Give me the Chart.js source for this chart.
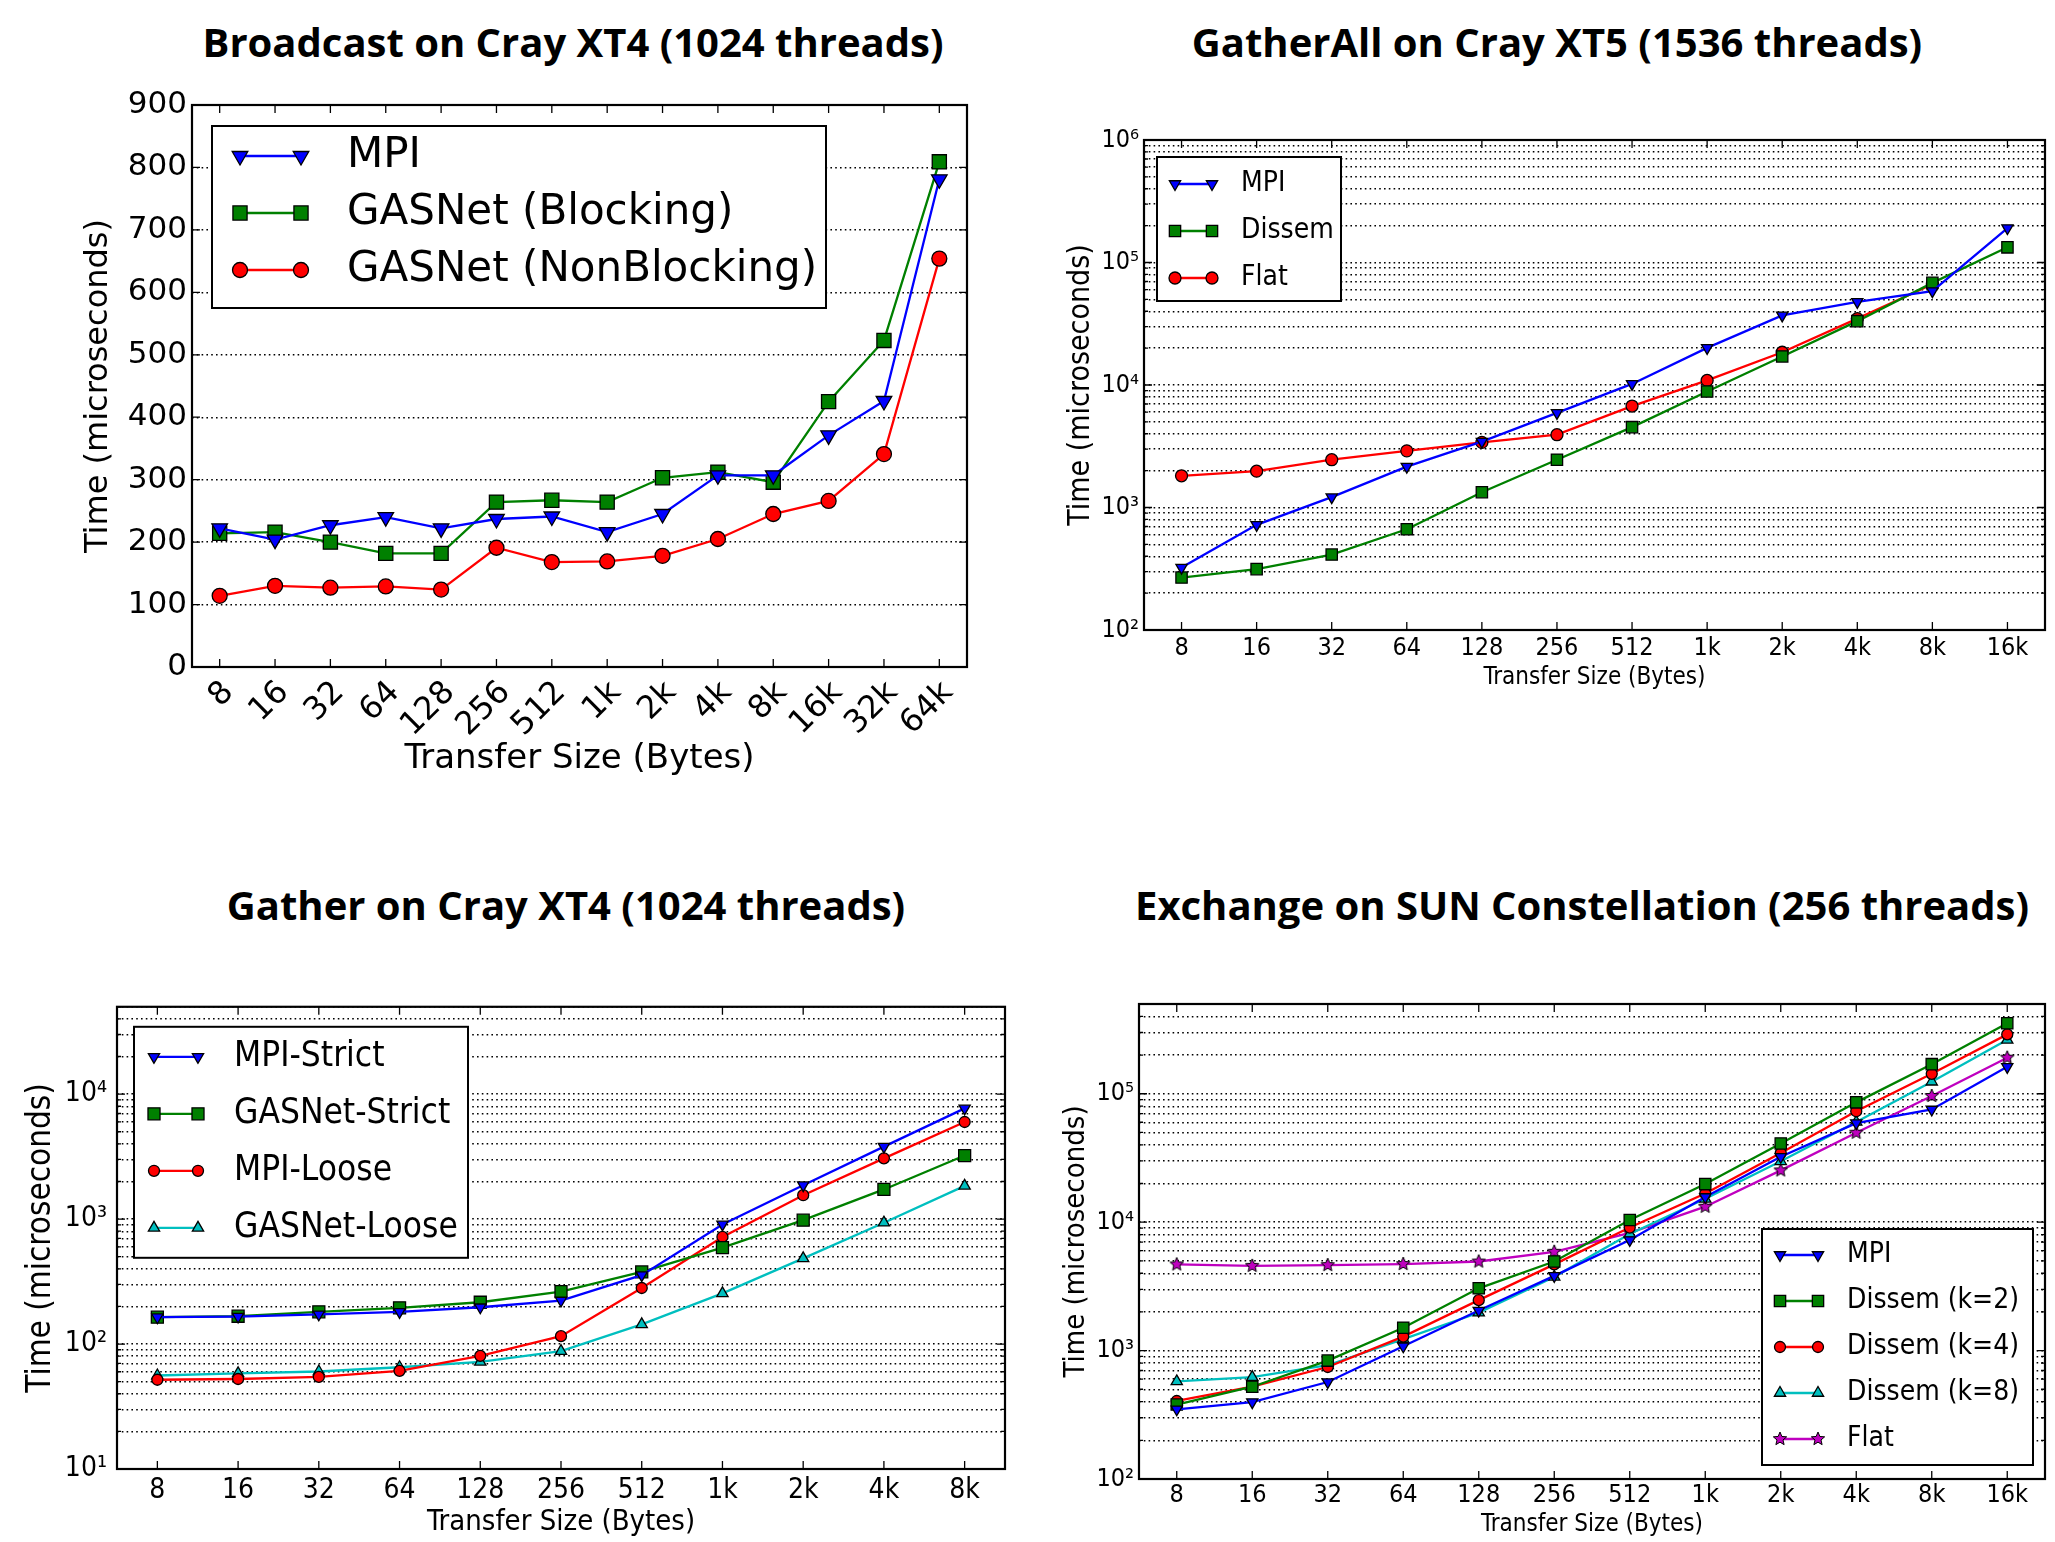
<!DOCTYPE html>
<html>
<head>
<meta charset="utf-8">
<script src="https://cdn.jsdelivr.net/npm/chart.js@4.4.1/dist/chart.umd.min.js"></script>
<style>
body { margin: 0; background: #fff; }
#page { position: relative; width: 2055px; height: 1542px; overflow: hidden; background: #fff; }
canvas { position: absolute; }
.ttl { position: absolute; font-family: 'Open Sans', sans-serif; font-weight: 700; font-size: 40px; color: #000;
       white-space: nowrap; transform: translate(-50%, -50%); }
</style>
</head>
<body>
<div id="page">
  <div class="ttl" style="left:573px;top:41px">Broadcast on Cray XT4 (1024 threads)</div>
  <div class="ttl" style="left:1557px;top:41px">GatherAll on Cray XT5 (1536 threads)</div>
  <div class="ttl" style="left:566px;top:904px">Gather on Cray XT4 (1024 threads)</div>
  <div class="ttl" style="left:1582px;top:904px">Exchange on SUN Constellation (256 threads)</div>
  <canvas id="bcast" width="1000" height="700" style="left:0;top:80px"></canvas>
  <canvas id="gatherAll" width="1015" height="620" style="left:1040px;top:100px"></canvas>
  <canvas id="gather" width="1030" height="562" style="left:0;top:980px"></canvas>
  <canvas id="exchange" width="1015" height="562" style="left:1040px;top:980px"></canvas>
</div>
<script>
// ---- data (microseconds) ----
const bcastSizes = ['8', '16', '32', '64', '128', '256', '512', '1k', '2k', '4k', '8k', '16k', '32k', '64k'];
const bcastMPI = [222, 204, 227, 240, 222, 237, 241, 216, 245, 307, 307, 371, 426, 781];
const bcastBlocking = [214, 216, 200, 182, 182, 264, 267, 264, 303, 312, 296, 425, 523, 809];
const bcastNonBlocking = [114, 130, 127, 129, 124, 191, 168, 169, 178, 205, 245, 266, 341, 654];

const gatherAllSizes = ['8', '16', '32', '64', '128', '256', '512', '1k', '2k', '4k', '8k', '16k'];
const gatherAllMPI = [323, 722, 1214, 2158, 3447, 5916, 10200, 20100, 37000, 47700, 58400, 191000];
const gatherAllDissem = [268, 314, 413, 664, 1333, 2455, 4527, 8850, 17100, 33200, 68200, 133000];
const gatherAllFlat = [1815, 1980, 2455, 2900, 3400, 3930, 6730, 10900, 18500, 34800, 66400, null];

const gatherSizes = ['8', '16', '32', '64', '128', '256', '512', '1k', '2k', '4k', '8k'];
const gatherMPIStrict = [164, 166, 173, 181, 197, 223, 356, 906, 1868, 3800, 7690];
const gatherGASNetStrict = [164, 167, 181, 195, 216, 263, 378, 591, 980, 1727, 3225];
const gatherMPILoose = [51.8, 52.5, 54.6, 61, 80.5, 115.6, 281, 720, 1553, 3063, 5987];
const gatherGASNetLoose = [56, 58.3, 60.3, 65.2, 72, 87.7, 143.6, 254.5, 485, 936, 1845];

const exchangeSizes = ['8', '16', '32', '64', '128', '256', '512', '1k', '2k', '4k', '8k', '16k'];
const exchangeMPI = [349, 397, 569, 1080, 2050, 3820, 7260, 15700, 32300, 59100, 75400, 162000];
const exchangeK2 = [380, 523, 836, 1507, 3055, 4940, 10400, 19800, 41000, 85700, 170000, 354000];
const exchangeK4 = [405, 523, 745, 1285, 2470, 4690, 9080, 16700, 34500, 73100, 143000, 290000];
const exchangeK8 = [575, 622, 769, 1228, 1972, 3750, 8090, 15200, 29800, 60300, 124000, 263000];
const exchangeFlat = [4690, 4570, 4630, 4720, 4940, 5880, 8250, 13200, 25300, 49700, 96100, 191000];

const BLUE = '#0000ff', GREEN = '#008000', RED = '#ff0000', CYAN = '#00bfbf', MAGENTA = '#bf00bf';
const DV = "'DejaVu Sans', sans-serif";
const DVC = "'DejaVu Sans Condensed', 'DejaVu Sans', sans-serif";
const SUP = '⁰¹²³⁴⁵⁶⁷⁸⁹';

// filled five point star, like matplotlib '*'
function starImage(r, fill) {
    let c = document.createElement('canvas');
    c.width = c.height = Math.ceil(r * 2 + 4);
    let g = c.getContext('2d');
    g.translate(c.width / 2, c.height / 2);
    g.beginPath();
    for (let i = 0; i < 10; i++) {
        let rad = i % 2 ? r * 0.45 : r;
        let a = -Math.PI / 2 + i * Math.PI / 5;
        g.lineTo(rad * Math.cos(a), rad * Math.sin(a));
    }
    g.closePath();
    g.fillStyle = fill;
    g.fill();
    g.strokeStyle = '#000';
    g.lineWidth = 1;
    g.stroke();
    return c;
}

function series(label, data, color, style, radius, rotation) {
    return {
        label: label, data: data,
        borderColor: color, backgroundColor: color, borderWidth: 2.3,
        pointStyle: style, pointRadius: radius, pointHoverRadius: radius, pointRotation: rotation || 0,
        pointBackgroundColor: color, pointBorderColor: '#000', pointBorderWidth: 1.3,
        tension: 0, fill: false
    };
}

function logTicks(min, max) {
    let out = [];
    for (let e = Math.floor(Math.log10(min)); e <= Math.ceil(Math.log10(max)); e++) {
        for (let m = 1; m < 10; m++) {
            let v = m * Math.pow(10, e);
            if (v >= min * 0.999 && v <= max * 1.001) out.push({value: v, major: m === 1});
        }
    }
    return out;
}

function powLabel(v) {
    let e = Math.round(Math.log10(v));
    if (Math.abs(Math.pow(10, e) - v) > 1e-6 * v) return '';
    return '10' + String(e).split('').map(d => SUP[+d]).join('');
}

// box around the plot plus inward tick marks
const framePlugin = {
    id: 'frame',
    beforeDatasetsDraw(chart) {
        const {ctx, chartArea: a, scales} = chart;
        ctx.save();
        ctx.setLineDash([]);
        ctx.strokeStyle = '#000';
        ctx.lineWidth = 1.3;
        ctx.beginPath();
        scales.x.ticks.forEach((t, i) => {
            let x = scales.x.getPixelForTick(i);
            ctx.moveTo(x, a.bottom); ctx.lineTo(x, a.bottom - 8);
            ctx.moveTo(x, a.top); ctx.lineTo(x, a.top + 8);
        });
        scales.y.ticks.forEach((t, i) => {
            let y = scales.y.getPixelForTick(i);
            let len = (scales.y.type !== 'logarithmic' || t.major) ? 8 : 4;
            ctx.moveTo(a.left, y); ctx.lineTo(a.left + len, y);
            ctx.moveTo(a.right, y); ctx.lineTo(a.right - len, y);
        });
        ctx.stroke();
        ctx.lineWidth = 2.2;
        ctx.strokeRect(a.left, a.top, a.right - a.left, a.bottom - a.top);
        ctx.restore();
    }
};

// matplotlib style legend: line with a marker at both ends
const legendPlugin = {
    id: 'boxLegend',
    afterDraw(chart, args, o) {
        if (!o || !o.w) return;
        const {ctx, chartArea: a} = chart;
        let x0 = a.left + o.x, y0 = a.top + o.y;
        ctx.save();
        ctx.setLineDash([]);
        ctx.fillStyle = '#fff';
        ctx.fillRect(x0, y0, o.w, o.h);
        ctx.strokeStyle = '#000';
        ctx.lineWidth = 2;
        ctx.strokeRect(x0, y0, o.w, o.h);
        chart.data.datasets.forEach((ds, i) => {
            let y = y0 + o.rowTop + i * o.rowGap;
            ctx.strokeStyle = ds.borderColor;
            ctx.lineWidth = ds.borderWidth;
            ctx.beginPath();
            ctx.moveTo(x0 + o.lineX0, y);
            ctx.lineTo(x0 + o.lineX1, y);
            ctx.stroke();
            let po = {pointStyle: ds.pointStyle, rotation: ds.pointRotation, radius: ds.pointRadius, borderWidth: ds.pointBorderWidth};
            [o.lineX0, o.lineX1].forEach(dx => {
                ctx.fillStyle = ds.pointBackgroundColor;
                ctx.strokeStyle = ds.pointBorderColor;
                ctx.lineWidth = ds.pointBorderWidth;
                Chart.helpers.drawPoint(ctx, po, x0 + dx, y);
            });
            ctx.fillStyle = '#000';
            ctx.font = o.fontCss;
            ctx.textAlign = 'left';
            ctx.textBaseline = 'middle';
            ctx.fillText(ds.label, x0 + o.textX, y);
        });
        ctx.restore();
    }
};

function createChart(id, p) {
    let yAxis = {
        type: p.log ? 'logarithmic' : 'linear',
        min: p.yMin, max: p.yMax,
        grid: {color: '#000', lineWidth: 1.4, drawTicks: false},
        border: {display: false, dash: [1.6, 3.2]},
        ticks: {
            color: '#000', font: {family: p.family, size: p.yTickSize || p.tickSize}, padding: p.yTickPad, autoSkip: false
        },
        title: {
            display: true, text: 'Time (microseconds)', color: '#000',
            font: {family: p.family, size: p.yTitleSize}, padding: {top: p.yTitlePad, bottom: 0}
        },
        afterFit(s) { s.width = p.yW; }
    };
    if (p.log) {
        yAxis.afterBuildTicks = (s) => { s.ticks = logTicks(p.yMin, p.yMax); };
        yAxis.ticks.callback = (v) => powLabel(v);
    } else {
        yAxis.ticks.stepSize = p.yStep;
    }
    return new Chart(document.getElementById(id), {
        type: 'line',
        data: {labels: p.labels, datasets: p.datasets},
        options: {
            responsive: false,
            animation: false,
            layout: {padding: {top: p.padTop, right: p.padRight, left: 0, bottom: 0}},
            plugins: {legend: {display: false}, tooltip: {enabled: false}, boxLegend: p.legend},
            scales: {
                x: {
                    type: 'category', offset: true,
                    grid: {display: false, drawTicks: false}, border: {display: false},
                    ticks: {
                        color: '#000', font: {family: p.family, size: p.tickSize}, padding: p.xTickPad,
                        labelOffset: p.xLabelOffset || 0,
                        minRotation: p.xRot, maxRotation: p.xRot, autoSkip: false
                    },
                    title: {
                        display: true, text: 'Transfer Size (Bytes)', color: '#000',
                        font: {family: p.family, size: p.xTitleSize}, padding: {top: 0, bottom: p.xTitlePad}
                    },
                    afterFit(s) { s.height = p.xH; }
                },
                y: yAxis
            }
        },
        plugins: [framePlugin, legendPlugin]
    });
}

const star = starImage(7, MAGENTA);

createChart('bcast', {
    labels: bcastSizes,
    datasets: [
        series('MPI', bcastMPI, BLUE, 'triangle', 9, 180),
        series('GASNet (Blocking)', bcastBlocking, GREEN, 'rect', 10),
        series('GASNet (NonBlocking)', bcastNonBlocking, RED, 'circle', 7.5)
    ],
    family: DV, tickSize: 32, yTickSize: 31, xTitleSize: 34, yTitleSize: 32,
    yMin: 0, yMax: 900, yStep: 100,
    yW: 192, padTop: 25, padRight: 33, xH: 113,
    xRot: 45, xTickPad: 7, xLabelOffset: 9, yTickPad: 5, xTitlePad: 0, yTitlePad: 79,
    legend: {x: 20, y: 21, w: 614, h: 182, rowTop: 30, rowGap: 57, lineX0: 28, lineX1: 89, textX: 135, fontCss: '42px ' + DV}
});

createChart('gatherAll', {
    labels: gatherAllSizes,
    datasets: [
        series('MPI', gatherAllMPI, BLUE, 'triangle', 6.5, 180),
        series('Dissem', gatherAllDissem, GREEN, 'rect', 8),
        series('Flat', gatherAllFlat, RED, 'circle', 6)
    ],
    family: DVC, tickSize: 25, xTitleSize: 24, yTitleSize: 30, log: true,
    yMin: 100, yMax: 1000000,
    yW: 104, padTop: 40, padRight: 10, xH: 90,
    xRot: 0, xTickPad: 3, yTickPad: 5, xTitlePad: 28, yTitlePad: 23,
    legend: {x: 13, y: 17, w: 184, h: 144, rowTop: 27, rowGap: 47, lineX0: 18, lineX1: 55, textX: 84, fontCss: '28px ' + DVC}
});

createChart('gather', {
    labels: gatherSizes,
    datasets: [
        series('MPI-Strict', gatherMPIStrict, BLUE, 'triangle', 6.5, 180),
        series('GASNet-Strict', gatherGASNetStrict, GREEN, 'rect', 8.5),
        series('MPI-Loose', gatherMPILoose, RED, 'circle', 5.5),
        series('GASNet-Loose', gatherGASNetLoose, CYAN, 'triangle', 6.5)
    ],
    family: DVC, tickSize: 28, xTitleSize: 29, yTitleSize: 33, log: true,
    yMin: 10, yMax: 50000,
    yW: 117, padTop: 25, padRight: 25, xH: 73,
    xRot: 0, xTickPad: 5, yTickPad: 10, xTitlePad: 2, yTitlePad: 22,
    legend: {x: 17, y: 20, w: 334, h: 231, rowTop: 30, rowGap: 57, lineX0: 20, lineX1: 64, textX: 100, fontCss: '35px ' + DVC}
});

createChart('exchange', {
    labels: exchangeSizes,
    datasets: [
        series('MPI', exchangeMPI, BLUE, 'triangle', 6.5, 180),
        series('Dissem (k=2)', exchangeK2, GREEN, 'rect', 8),
        series('Dissem (k=4)', exchangeK4, RED, 'circle', 5.5),
        series('Dissem (k=8)', exchangeK8, CYAN, 'triangle', 6.5),
        series('Flat', exchangeFlat, MAGENTA, star, 7)
    ],
    family: DVC, tickSize: 25, xTitleSize: 24, yTitleSize: 29, log: true,
    yMin: 100, yMax: 500000,
    yW: 99, padTop: 24, padRight: 10, xH: 63,
    xRot: 0, xTickPad: 1, yTickPad: 5, xTitlePad: 3, yTitlePad: 19,
    legend: {x: 623, y: 225, w: 271, h: 236, rowTop: 26, rowGap: 46, lineX0: 18, lineX1: 56, textX: 85, fontCss: '28px ' + DVC}
});
</script>
</body>
</html>
